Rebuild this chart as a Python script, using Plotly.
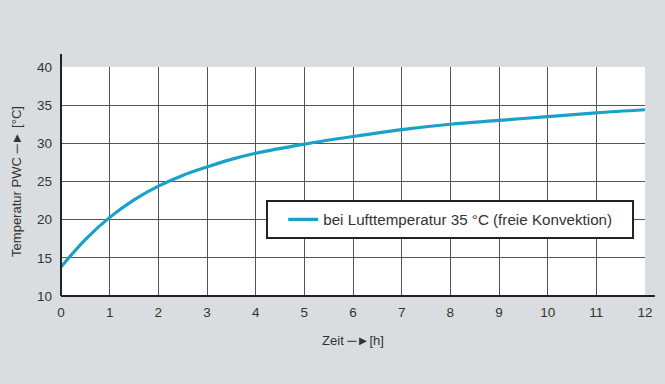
import plotly.graph_objects as go

hours = [0, 0.5, 1, 1.5, 2, 2.5, 3, 3.5, 4, 5, 6, 7, 8, 9, 10, 11, 12]
temp = [13.8, 17.4, 20.3, 22.6, 24.4, 25.8, 26.9, 27.9, 28.7, 29.9, 30.9, 31.8, 32.5, 33.0, 33.5, 34.0, 34.4]
x_ticks = list(range(0, 13))
y_ticks = [10, 15, 20, 25, 30, 35, 40]
series_name = "bei Lufttemperatur 35 °C (freie Konvektion)"

fig = go.Figure()
fig.add_trace(go.Scatter(
    x=hours, y=temp, mode="lines", name=series_name,
    line=dict(color="#1aa1c9", width=3.2, shape="spline", smoothing=1.0),
    showlegend=True,
))

font = dict(family="Liberation Sans, Arial, sans-serif", size=13.5, color="#333333")
fig.update_layout(
    width=665, height=384,
    margin=dict(l=61, r=20, t=67, b=88),
    paper_bgcolor="#dadde0",
    plot_bgcolor="#ffffff",
    font=font,
    showlegend=True,
    legend=dict(
        x=0.3805, y=0.334, xanchor="left", yanchor="middle",
        bgcolor="rgba(0,0,0,0)", borderwidth=0,
        font=dict(family="Liberation Sans, Arial, sans-serif", size=15.2, color="#333333"),
        itemwidth=30,
    ),
    xaxis=dict(
        range=[0, 12], tickvals=x_ticks, ticktext=[str(v) for v in x_ticks],
        showgrid=True, gridcolor="#555555", gridwidth=1,
        zeroline=False, showline=False, ticks="", ticklabelstandoff=6,
        title=dict(text="Zeit ─►[h]", font=dict(size=13, color="#333333"), standoff=17),
    ),
    yaxis=dict(
        range=[10, 40], tickvals=y_ticks, ticktext=[str(v) for v in y_ticks],
        showgrid=True, gridcolor="#555555", gridwidth=1,
        zeroline=False, showline=False, ticks="", ticklabelstandoff=8,
        title=dict(text="Temperatur PWC ─► [°C]", font=dict(size=13, color="#333333"), standoff=12),
    ),
)

# legend box
fig.add_shape(type="rect", xref="paper", yref="paper", x0=0.3527, x1=0.9795, y0=0.2533, y1=0.4148,
              fillcolor="#ffffff", line=dict(color="#222222", width=2), layer="above")
# extended axis lines (left and bottom)
fig.add_shape(type="line", xref="paper", yref="paper", x0=0, x1=0, y0=0, y1=1.057,
              line=dict(color="#222222", width=2))
fig.add_shape(type="line", xref="paper", yref="paper", x0=0, x1=1.017, y0=0, y1=0,
              line=dict(color="#222222", width=2))

fig.write_html("out.html", config={"displayModeBar": False},
               post_script="document.body.style.margin='0';document.body.style.background='#dadde0';")
